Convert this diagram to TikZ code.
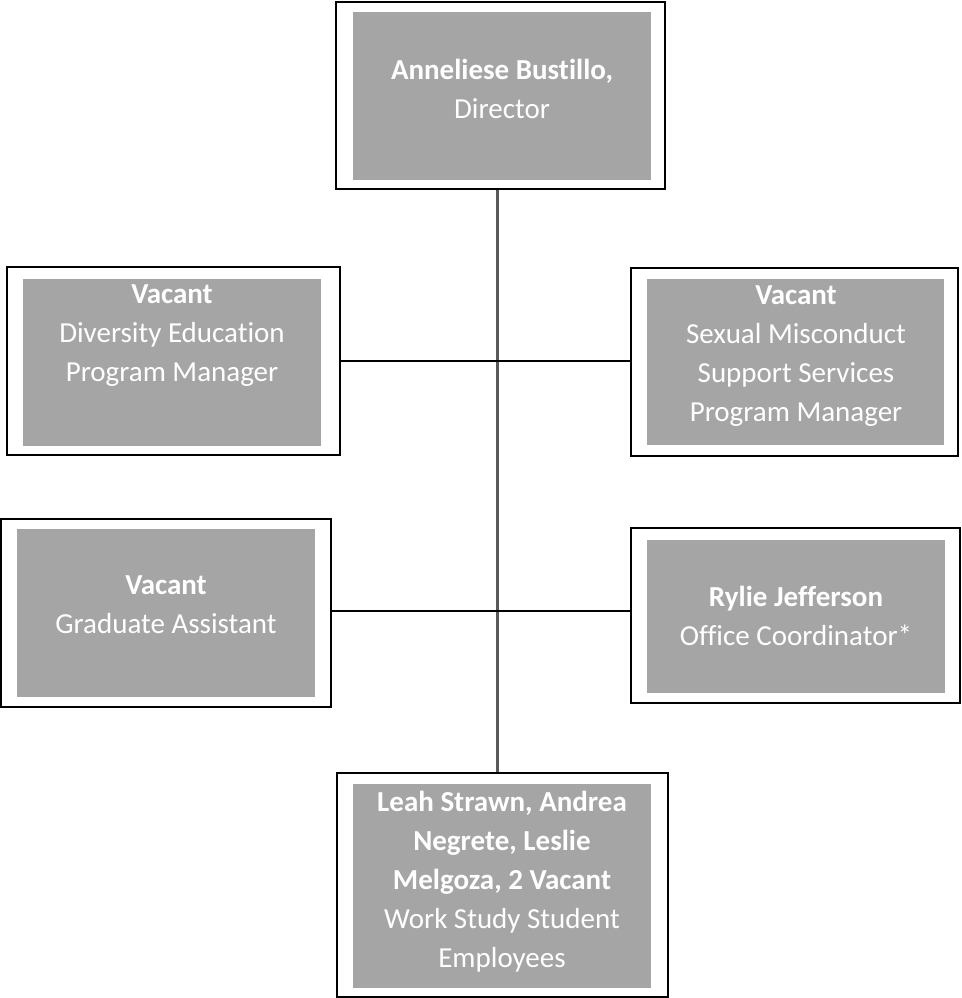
\documentclass[tikz,border=0pt]{standalone}
\usepackage{fontspec}
\setmainfont{Carlito}[Ligatures={NoCommon}]
\usepackage{tikz}
\usetikzlibrary{calc}

\definecolor{cardgray}{HTML}{A5A5A5}
\definecolor{spinegray}{HTML}{595959}

\tikzset{
  frame/.style = {draw=black, line width=2pt, fill=white, inner sep=0, rectangle},
  card/.style  = {fill=cardgray},
  who/.style   = {text=white, align=center, inner sep=0,
                  font=\fontsize{29}{39}\selectfont},
  spine/.style = {spinegray, line width=2.2pt},
  arm/.style   = {black, line width=1.6pt}
}

\begin{document}
\begin{tikzpicture} [x=1pt, y=-1pt]
\useasboundingbox (0,0) rectangle (961,998);

% outer frames
\node[frame, minimum width=329, minimum height=187] (dirF)  at (500.5, 95.5) {};
\node[frame, minimum width=333, minimum height=188] (divF)  at (173.5,361)   {};
\node[frame, minimum width=327, minimum height=188] (sexF)  at (794.5,362)   {};
\node[frame, minimum width=330, minimum height=188] (gradF) at (166,613)     {};
\node[frame, minimum width=329, minimum height=175] (ryF)   at (795.5,615.5) {};
\node[frame, minimum width=331, minimum height=224] (wsF)   at (502.5,885)   {};

% gray cards
\fill[card] (353,12)  rectangle (651,180);
\fill[card] (23,279)  rectangle (321,446);
\fill[card] (647,279) rectangle (944,445);
\fill[card] (17,529)  rectangle (315,697);
\fill[card] (647,540) rectangle (945,693);
\fill[card] (353,784) rectangle (651,988);

% texts
\node[who] (dir)  at (502,89)  {\textbf{Anneliese Bustillo,}\\Director};
\node[who] (div)  at (172,336) {\textbf{Vacant}\\Diversity Education\\Program Manager};
\node[who] (sex)  at (796,356) {\textbf{Vacant}\\Sexual Misconduct\\Support Services\\Program Manager};
\node[who] (grad) at (166,605) {\textbf{Vacant}\\Graduate Assistant};
\node[who] (ry)   at (796,616) {\textbf{Rylie Jefferson}\\Office Coordinator*};
\node[who] (ws)   at (502,882) {\textbf{Leah Strawn, Andrea}\\\textbf{Negrete, Leslie}\\\textbf{Melgoza, 2 Vacant}\\Work Study Student\\Employees};

% connectors
\draw[spine] (dirF.south) ++(-3,0) coordinate (top) -- (top |- wsF.north);
\draw[arm] (divF.east) -- (divF.east -| sexF.west);
\draw[arm] (gradF.east) ++(0,-2) coordinate (armL) -- (armL -| ryF.west);
\end{tikzpicture}
\end{document}
